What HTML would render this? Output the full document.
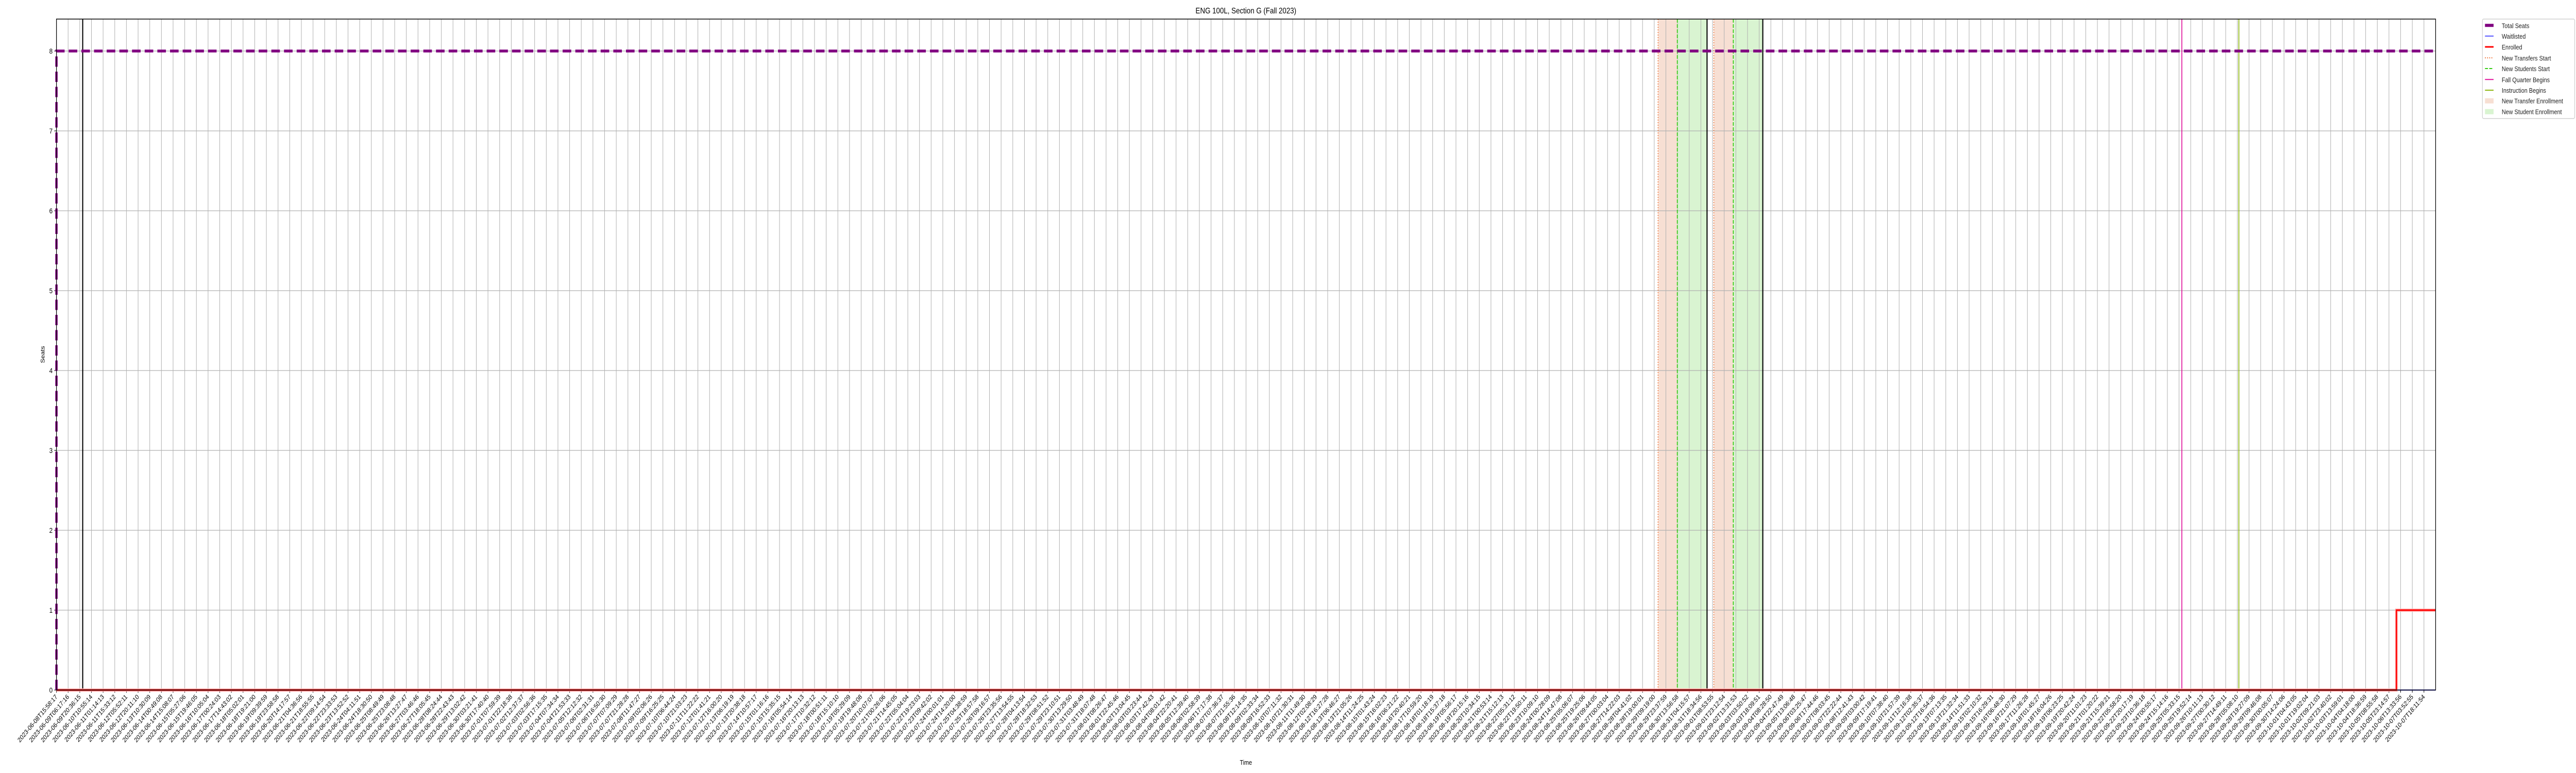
<!DOCTYPE html>
<html><head><meta charset="utf-8"><style>
html,body{margin:0;padding:0;background:#fff;width:100%;height:100%;overflow:hidden;}
svg{display:block;width:100vw;height:100vh;font-family:"Liberation Sans","DejaVu Sans",sans-serif;}
</style></head><body>
<svg id="chart" viewBox="0 0 6000 1500" preserveAspectRatio="none" xmlns="http://www.w3.org/2000/svg">
<text x="2902" y="26" font-size="16" text-anchor="middle" fill="#000">ENG 100L, Section G (Fall 2023)</text>
<text x="2902" y="1484" font-size="13" text-anchor="middle" fill="#000">Time</text>
<text x="104" y="688" font-size="13" text-anchor="middle" fill="#000" transform="rotate(-90 104 688)">Seats</text>
<g id="plot"></g>
<g id="legend"></g>
</svg>
<script>
// ---- data ----
const tickStart = "2023-06-08T15:58:17";
const tickCount = 204;
const tickStepSeconds = 51539;
const yTicks = [0,1,2,3,4,5,6,7,8];
const totalSeatsX = [0, 0, 204];
const totalSeatsY = [0, 8, 8];
const enrolledX = [0, 200.64, 200.64, 204];
const enrolledY = [0, 0, 1, 1];
const waitlistX = [0, 204];
const waitlistY = [0, 0];
const blackLines = [2.25, 141.53, 146.31];
const transferStarts = [137.33, 142.11];
const studentStarts = [138.98, 143.78];
const periodEnds = [141.53, 146.31];
const fallQuarterBegins = [182.24];
const instructionBegins = [187.13];

// ---- axes ----
const L=131.5,R=5673,T=37,B=1339;
const XMIN=0,XMAX=204,YMIN=0,YMAX=8.4;
function sx(v){return L+(v-XMIN)/(XMAX-XMIN)*(R-L);}
function sy(v){return B-(v-YMIN)/(YMAX-YMIN)*(B-T);}
const NS="http://www.w3.org/2000/svg";
const plot=document.getElementById('plot');
function el(tag,attrs,parent){const e=document.createElementNS(NS,tag);for(const k in attrs)e.setAttribute(k,attrs[k]);(parent||plot).appendChild(e);return e;}
function pad(n){return String(n).padStart(2,'0');}
function fmt(d){return d.getUTCFullYear()+"-"+pad(d.getUTCMonth()+1)+"-"+pad(d.getUTCDate())+"T"+pad(d.getUTCHours())+":"+pad(d.getUTCMinutes())+":"+pad(d.getUTCSeconds());}
const t0=Date.parse(tickStart+"Z");
const tickLabels=[];
for(let i=0;i<tickCount;i++){tickLabels.push(fmt(new Date(t0+i*tickStepSeconds*1000)));}

for(let i=0;i<transferStarts.length;i++){
  const r1=el('rect',{x:sx(transferStarts[i]),y:T,width:sx(studentStarts[i])-sx(transferStarts[i]),height:B-T,fill:'#f7dfd3'});
  
  
  const r2=el('rect',{x:sx(studentStarts[i]),y:T,width:sx(periodEnds[i])-sx(studentStarts[i]),height:B-T,fill:'#d9f4d1'});
  
  
}
tickLabels.forEach((lab,i)=>{
  const x=sx(i);
  const g=el('line',{x1:x,x2:x,y1:T,y2:B,stroke:'#b0b0b0','stroke-width':1.2});
  
  
  el('line',{x1:x,x2:x,y1:B,y2:B+5,stroke:'#000','stroke-width':1.2});
  const t=el('text',{x:x+3,y:B+14,'font-size':13,'text-anchor':'end',transform:'rotate(-45 '+(x+3)+' '+(B+14)+')',fill:'#000'});
  t.textContent=lab;
  
  
});
yTicks.forEach(v=>{
  const y=sy(v);
  const g=el('line',{x1:L,x2:R,y1:y,y2:y,stroke:'#b0b0b0','stroke-width':1.2});
  
  
  el('line',{x1:L-5,x2:L,y1:y,y2:y,stroke:'#000','stroke-width':1.2});
  const t=el('text',{x:L-9,y:y+5,'font-size':14,'text-anchor':'end',fill:'#000'});
  t.textContent=v;
  
  
});
transferStarts.forEach(v=>{const l=el('line',{x1:sx(v),x2:sx(v),y1:T,y2:B,stroke:'#ef6a2b','stroke-width':1.6,'stroke-dasharray':'2,3'});
  
  });
studentStarts.forEach(v=>{const l=el('line',{x1:sx(v),x2:sx(v),y1:T,y2:B,stroke:'#33cc11','stroke-width':2,'stroke-dasharray':'7,3'});
  
  });
fallQuarterBegins.forEach(v=>{const l=el('line',{x1:sx(v),x2:sx(v),y1:T,y2:B,stroke:'#e0149b','stroke-width':2});
  
  });
instructionBegins.forEach(v=>{const l=el('line',{x1:sx(v),x2:sx(v),y1:T,y2:B,stroke:'#8db510','stroke-width':2});
  
  });
blackLines.forEach(v=>{const l=el('line',{x1:sx(v),x2:sx(v),y1:T,y2:B,stroke:'#000','stroke-width':2.5});
  
  });
function pts(xs,ys){return xs.map((x,i)=>sx(x)+','+sy(ys[i])).join(' ');}
const wl=el('polyline',{points:pts(waitlistX,waitlistY),fill:'none',stroke:'#2222ff','stroke-width':2});


el('polyline',{points:pts(enrolledX,enrolledY),fill:'none',stroke:'#ffb0b0','stroke-width':6});
const en=el('polyline',{points:pts(enrolledX,enrolledY),fill:'none',stroke:'#ff0000','stroke-width':3});


const ts=el('polyline',{points:pts(totalSeatsX,totalSeatsY),fill:'none',stroke:'#800080','stroke-width':5.5,'stroke-dasharray':'20,9.5'});


const fr=el('rect',{x:L,y:T,width:R-L,height:B-T,fill:'none',stroke:'#000','stroke-width':1.5});



const lg=document.getElementById('legend');
el('rect',{x:5782,y:37,width:215,height:193,fill:'#fff',stroke:'#d0d0d0','stroke-width':1.5,rx:3},lg);
const legItems=[
 ['Total Seats','line','#800080',6,''],
 ['Waitlisted','line','#2222ff',1.5,''],
 ['Enrolled','line','#ff0000',3,''],
 ['New Transfers Start','line','#ef6a2b',2,'2,3'],
 ['New Students Start','line','#33cc11',2,'7,3'],
 ['Fall Quarter Begins','line','#e0149b',2,''],
 ['Instruction Begins','line','#8db510',2,''],
 ['New Transfer Enrollment','rect','#f7dfd3',0,''],
 ['New Student Enrollment','rect','#d9f4d1',0,'']
];
const legY=[49.3,70,91,112.3,133,154.3,175,195.7,216.7];
legItems.forEach((it,i)=>{
  const y=legY[i];
  const g=el('g',{},lg);
  
  
  if(it[1]==='line'){el('line',{x1:5788,x2:5808,y1:y,y2:y,stroke:it[2],'stroke-width':it[3],'stroke-dasharray':it[4]},g);}
  else{el('rect',{x:5788,y:y-5,width:20,height:10,fill:it[2]},g);}
  const t=el('text',{x:5827,y:y+5,'font-size':13,fill:'#222'},g);
  t.textContent=it[0];
});
</script>
</body></html>
